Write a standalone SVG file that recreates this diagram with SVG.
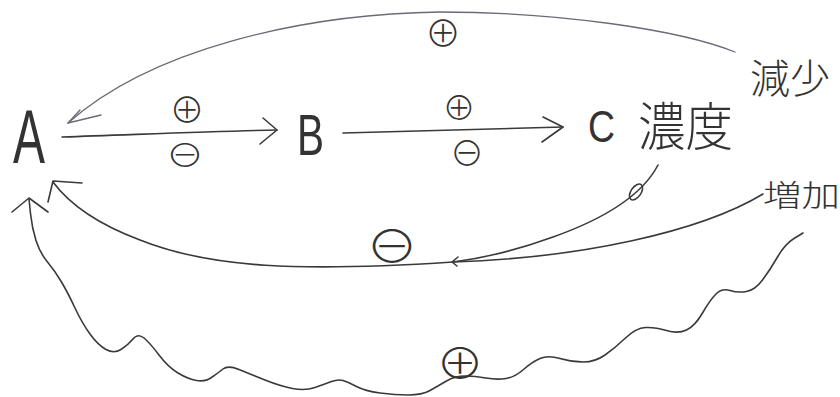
<svg xmlns="http://www.w3.org/2000/svg" width="840" height="397" viewBox="0 0 840 397">
<style>
.ln{fill:none;stroke:#3a3a3a;stroke-width:1.6;stroke-linecap:round;stroke-linejoin:round}
.lt{fill:none;stroke:#6a6a78;stroke-width:1.3;stroke-linecap:round;stroke-linejoin:round}
.nd{font-family:"Liberation Sans","Noto Sans CJK JP",sans-serif;fill:#333}
.cj{font-family:"Noto Sans CJK JP",sans-serif;fill:#333;font-weight:300}
.sg{font-family:"Noto Sans CJK JP",sans-serif;font-weight:300;fill:#333;text-anchor:middle;dominant-baseline:central}
</style>
<rect width="840" height="397" fill="#fff"/>
<g id="connectors">
  <!-- top arc C -> A -->
  <path class="lt" d="M735,52 C680,30 560,12 440,12 C300,14 150,50 68,123"/>
  <path class="lt" d="M80,110 L68,123 L101,115"/>
  <text class="sg" x="443" y="31" font-size="36">⊕</text>
  <!-- A -> B -->
  <path class="ln" d="M62,137 C150,134 220,131 277,130"/>
  <path class="ln" d="M263,118 L277,130 L260,144"/>
  <text class="sg" x="187" y="107" font-size="35">⊕</text>
  <text class="sg" x="185" y="153" font-size="32" textLength="38" lengthAdjust="spacingAndGlyphs">⊖</text>
  <!-- B -> C -->
  <path class="ln" d="M343,133 L563,127"/>
  <path class="ln" d="M543,117 L563,127 L542,142"/>
  <text class="sg" x="459" y="106" font-size="33">⊕</text>
  <text class="sg" x="467" y="151" font-size="34">⊖</text>
  <!-- lower arc (minus) -->
  <path class="ln" d="M763,194 C700,232 580,258 453,262 C300,272 210,268 140,240 C100,225 70,205 53,182"/>
  <path class="ln" d="M658,165 C645,190 615,215 553,237 C520,249 485,258 453,262"/>
  <ellipse class="ln" cx="636" cy="192" rx="5" ry="9" transform="rotate(35 636 192)"/>
  <path class="ln" d="M458,257 L452,262 L457,266"/>
  <path class="ln" d="M82,183 L53,181 L48,202"/>
  <text class="sg" x="392" y="244" font-size="44" textLength="52" lengthAdjust="spacingAndGlyphs">⊖</text>
  <!-- wavy arc (plus) -->
  <path class="ln" d="M803,233 L794,238.5 Q785,244 777.5,257 Q770,270 762.5,280 Q755,290 746.5,291.5 Q738,293 730,290.5 Q722,288 716,294 Q710,300 702.5,313 Q695,326 686.5,330 Q678,334 666.5,330.5 Q655,327 645.5,327.5 Q636,328 625.5,338 Q615,348 605,355 Q595,362 583.5,362 Q572,362 560,358.5 Q548,355 540,358.5 Q532,362 523.5,369.5 Q515,377 506,378.5 Q497,380 486,378 Q475,376 465,376 Q455,376 446.5,381 Q438,386 430,390.5 Q422,395 408.5,395 Q395,395 380,393 Q365,391 356.5,386.5 Q348,382 343,380.5 Q338,379 331.5,381.5 Q325,384 315,387.5 Q305,391 292.5,388.5 Q280,386 265,380 Q250,374 239,369.5 Q228,365 223,369 Q218,373 211.5,377.5 Q205,382 196.5,380.5 Q188,379 178,373 Q168,367 159,355 Q150,343 144,338 Q138,333 133,339 Q128,345 121,349.5 Q114,354 106,349.5 Q98,345 90,334 Q82,323 75,308 Q68,293 61.5,282 Q55,271 47.5,262 Q40,253 36,240.5 Q32,228 30.5,213.5 L29,199"/>
  <path class="ln" d="M12,212 L29,198 L48,212"/>
  <text class="sg" x="460" y="360" font-size="42" textLength="48" lengthAdjust="spacingAndGlyphs">⊕</text>
</g>
<g id="node-A"><text class="nd" x="13" y="163" font-size="76" textLength="32" lengthAdjust="spacingAndGlyphs">A</text></g>
<g id="node-B"><text class="nd" x="297" y="155" font-size="58" textLength="27" lengthAdjust="spacingAndGlyphs">B</text></g>
<g id="node-C">
  <text class="nd" x="588" y="142" font-size="44" textLength="27" lengthAdjust="spacingAndGlyphs">C</text>
  <text class="cj" x="638" y="146" font-size="52" textLength="95" lengthAdjust="spacingAndGlyphs">濃度</text>
</g>
<g id="label-decrease"><text class="cj" x="750" y="93" font-size="40" textLength="80" lengthAdjust="spacingAndGlyphs">減少</text></g>
<g id="label-increase"><text class="cj" x="763" y="206" font-size="30" textLength="77" lengthAdjust="spacingAndGlyphs">増加</text></g>
</svg>
